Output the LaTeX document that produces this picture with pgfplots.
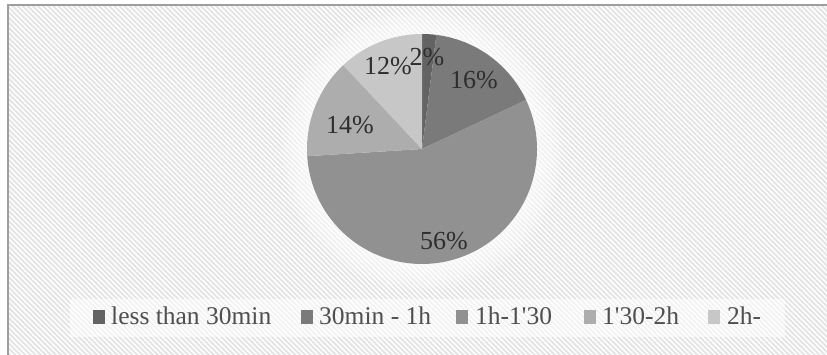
\documentclass[border=0pt]{standalone}
\usepackage{pgfplots}
\pgfplotsset{compat=1.18}
\usepackage{pgfplotstable}
\usetikzlibrary{patterns.meta}
\usepackage{fontspec}
\setmainfont{Liberation Serif}

\definecolor{s0}{HTML}{636363}
\definecolor{s1}{HTML}{7A7A7A}
\definecolor{s2}{HTML}{919191}
\definecolor{s3}{HTML}{ADADAD}
\definecolor{s4}{HTML}{C7C7C7}
\definecolor{lab}{HTML}{2E2E2E}
\definecolor{legtext}{HTML}{4F4F4F}

\pgfplotstableread{
label value
a 2
b 16
c 56
d 14
e 12
}\piedata

\begin{document}
\begin{tikzpicture}
\begin{axis}[
  x=1pt, y=1pt,
  xmin=0, xmax=827, ymin=0, ymax=355,
  scale only axis, hide axis,
]
\pgfplotsextra{%
  % background
  \fill[white] (axis cs:0,0) rectangle (axis cs:827,355);
  \fill[pattern={Lines[angle=-45,distance=3.6pt,line width=1.8pt]}, pattern color=black!11]
      (axis cs:8,0) rectangle (axis cs:827,349);
  \draw[black!38, line width=2pt] (axis cs:7.5,0) -- (axis cs:7.5,349.5) -- (axis cs:827,349.5);
  % glow around pie
  \foreach \k in {1,...,12}{%
    \fill[white, opacity=0.11] (axis cs:422,206) circle[radius={115pt+\k*2.2pt}];
  }%
  % legend band
  \fill[white, opacity=0.55] (axis cs:70,18) rectangle (axis cs:785,56);
  % pie
  \global\def\cum{0}%
  \pgfplotstableforeachcolumnelement{value}\of\piedata\as\v{%
    \pgfmathsetmacro\sa{90-3.6*\cum}%
    \pgfmathsetmacro\ea{90-3.6*(\cum+\v)}%
    \edef\temp{\noexpand\fill[s\pgfplotstablerow] (axis cs:422,206) -- ++(\sa:115pt) arc[start angle=\sa,end angle=\ea,radius=115pt] -- cycle;}%
    \temp
    \pgfmathsetmacro\newcum{\cum+\v}%
    \global\let\cum\newcum
  }%
  % labels
  \begingroup
  \fontsize{26}{30}\selectfont
  \node[lab, anchor=center, inner sep=0pt] at (axis cs:427,297.5) {2\%};
  \node[lab, anchor=center, inner sep=0pt] at (axis cs:474,274.5) {16\%};
  \node[lab, anchor=center, inner sep=0pt] at (axis cs:444,113.5) {56\%};
  \node[lab, anchor=center, inner sep=0pt] at (axis cs:350,230) {14\%};
  \node[lab, anchor=center, inner sep=0pt] at (axis cs:388,288.5) {12\%};
  \endgroup
  % legend
  \fill[s0] (axis cs:93,31) rectangle (axis cs:105,45);
  \fill[s1] (axis cs:301,31) rectangle (axis cs:313,45);
  \fill[s2] (axis cs:456,31) rectangle (axis cs:468,45);
  \fill[s3] (axis cs:584,31) rectangle (axis cs:596,45);
  \fill[s4] (axis cs:708,31) rectangle (axis cs:720,45);
  \begingroup
  \fontsize{25.5}{28}\selectfont
  \node[legtext, anchor=base west, inner sep=0pt] at (axis cs:111,30) {less than 30min};
  \node[legtext, anchor=base west, inner sep=0pt] at (axis cs:319,30) {30min - 1h};
  \node[legtext, anchor=base west, inner sep=0pt] at (axis cs:475,30) {1h-1\textquotesingle 30};
  \node[legtext, anchor=base west, inner sep=0pt] at (axis cs:602,30) {1\textquotesingle 30-2h};
  \node[legtext, anchor=base west, inner sep=0pt] at (axis cs:727,30) {2h-};
  \endgroup
}
\end{axis}
\end{tikzpicture}
\end{document}
